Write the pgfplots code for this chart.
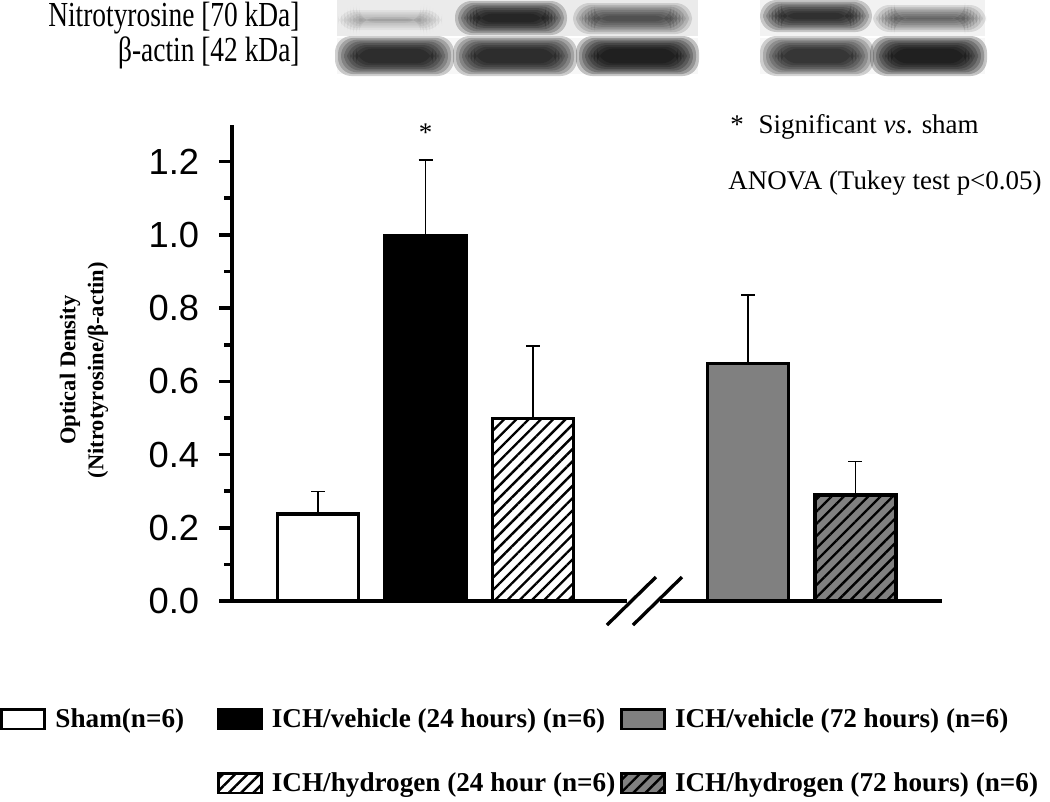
\documentclass[border=0pt]{standalone}
\usepackage{fontspec}
\setmainfont{Liberation Serif}
\newfontfamily\arial{Liberation Sans}
\newfontfamily\narrowserif[FakeStretch=0.78]{Liberation Serif}
\usepackage{pgfplots}
\pgfplotsset{compat=1.18}
\usetikzlibrary{patterns.meta}
\definecolor{bargray}{RGB}{128,128,128}

% soft blot band: x1 x2 y1 y2 opacity (pixel units)
\newcommand{\band}[5]{%
  \foreach \k in {0,...,7}{%
    \fill[black, fill opacity=#5, rounded corners=7pt]
      ({#1+\k*3},{#3+\k*1.8}) rectangle ({#2-\k*3},{#4-\k*1.8});}}

\tikzset{hatch/.style={postaction={pattern={Lines[angle=45,distance=1.3mm,line width=0.35mm]}}}}

\begin{document}
\begin{tikzpicture}
% one unit = one pixel of the reference
\begin{scope}[x=0.15mm, y=-0.15mm]
  \path[use as bounding box] (0,0) rectangle (1050,801);
  % blot panels
  \fill[black!8] (337,0) rectangle (698,36);
  \fill[black!5] (760,0) rectangle (985,36);
  \fill[black!3] (337,38) rectangle (698,74);
  \fill[black!3] (760,38) rectangle (985,74);
  \band{338}{442}{10}{30}{0.045}
  \band{455}{567}{1}{35}{0.2}
  \band{573}{692}{3}{34}{0.12}
  \band{760}{872}{0}{32}{0.18}
  \band{873}{986}{5}{32}{0.1}
  \band{335}{454}{36}{76}{0.19}
  \band{453}{577}{36}{76}{0.19}
  \band{576}{699}{36}{76}{0.22}
  \band{760}{874}{36}{76}{0.17}
  \band{870}{987}{36}{76}{0.22}
  \node[anchor=east, inner sep=0pt, font=\narrowserif\fontsize{15}{15}\selectfont] at (300,18) {Nitrotyrosine [70 kDa]};
  \node[anchor=east, inner sep=0pt, font=\narrowserif\fontsize{15}{15}\selectfont] at (300,53) {β-actin [42 kDa]};
  % notes
  \node[anchor=west, inner sep=0pt, font=\fontsize{11.5}{11.5}\selectfont] at (730,127) {*\hspace{2.2mm}Significant \textit{vs}. sham};
  \node[anchor=west, inner sep=0pt, font=\fontsize{11.5}{11.5}\selectfont] at (728,183) {ANOVA (Tukey test p<0.05)};
\end{scope}

\begin{axis}[
    at={(34.8mm,-90.15mm)}, anchor=south west,
    scale only axis, width=106.5mm, height=71.4mm,
    xmin=-0.8, xmax=5.805, ymin=0, ymax=1.3,
    axis lines=left, axis line style={-, line width=0.55mm},
    clip=false,
    xtick=\empty,
    ytick={0,0.2,0.4,0.6,0.8,1.0,1.2},
    minor ytick={0.1,0.3,0.5,0.7,0.9,1.1},
    tick align=outside,
    major tick length=1.9mm, minor tick length=1.2mm,
    every tick/.style={black, line width=0.55mm},
    yticklabel style={font=\arial\fontsize{15.5}{15.5}\selectfont, xshift=-1.8mm},
    yticklabel={\pgfmathprintnumber[fixed, fixed zerofill, precision=1, assume math mode=true]{\tick}},
    ylabel={Optical Density\\(Nitrotyrosine/β-actin)},
    ylabel style={at={(axis description cs:-0.2085,0.485)}, anchor=center,
        align=center, font=\bfseries\fontsize{9.6}{12}\selectfont},
    every axis plot/.append style={ybar, bar width=12.15mm, bar shift=0pt,
        draw=black, line width=0.5mm,
        error bars/y dir=plus, error bars/y explicit,
        error bars/error bar style={line width=0.25mm},
        error bars/error mark options={rotate=90, mark size=1.05mm, line width=0.25mm}},
    legend image code/.code={\draw[#1, line width=0.4mm] (0mm,-1.45mm) rectangle (6.45mm,1.45mm);},
    legend columns=3,
    legend cell align=left,
    legend style={at={(axis description cs:0,0)}, anchor=north west,
        xshift=-34.8mm, yshift=-15.6mm,
        draw=none, fill=none, inner sep=0pt, row sep=5.45mm,
        nodes={inner sep=0.4mm},
        /tikz/every odd column/.append style={column sep=1mm},
        /tikz/column 2/.append style={column sep=4.5mm},
        /tikz/column 4/.append style={column sep=0.3mm},
        font=\bfseries\fontsize{11.6}{13}\selectfont},
]
\addplot[fill=white, forget plot] coordinates {(0,0.238) +- (0,0.061)};
\addplot[fill=black, forget plot] coordinates {(1,0.997) +- (0,0.208)};
\addplot[fill=white, hatch, forget plot] coordinates {(2,0.499) +- (0,0.197)};
\addplot[fill=bargray, forget plot] coordinates {(4,0.649) +- (0,0.187)};
\addplot[fill=bargray, hatch, forget plot] coordinates {(5,0.290) +- (0,0.091)};

\node[font=\fontsize{11.5}{11.5}\selectfont] at (axis cs:1,1.205) [yshift=4.0mm] {*};

% axis break
\draw[white, line width=1.2mm] (axis cs:2.874,0) -- (axis cs:3.181,0);
\draw[line width=0.5mm] ([shift={(-3.675mm,-3.6mm)}]axis cs:2.916,0) -- ++(7.35mm,7.2mm);
\draw[line width=0.5mm] ([shift={(-3.675mm,-3.6mm)}]axis cs:3.158,0) -- ++(7.35mm,7.2mm);

\addlegendimage{fill=white}
\addlegendentry{Sham(n=6)}
\addlegendimage{fill=black}
\addlegendentry{ICH/vehicle (24 hours) (n=6)}
\addlegendimage{fill=bargray}
\addlegendentry{ICH/vehicle (72 hours) (n=6)}
\addlegendimage{empty legend}
\addlegendentry{}
\addlegendimage{fill=white, hatch}
\addlegendentry{ICH/hydrogen (24 hour (n=6)}
\addlegendimage{fill=bargray, hatch}
\addlegendentry{ICH/hydrogen (72 hours) (n=6)}
\end{axis}
\end{tikzpicture}
\end{document}
